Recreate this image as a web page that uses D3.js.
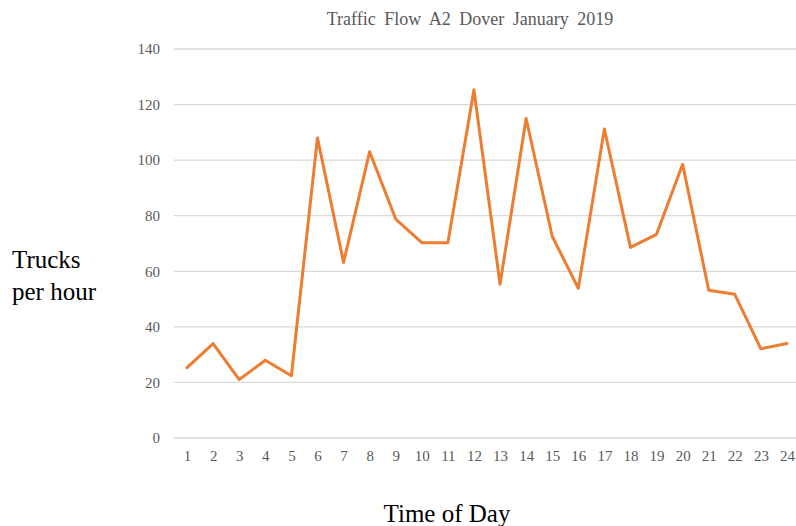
<!DOCTYPE html>
<html>
<head>
<meta charset="utf-8">
<script src="https://cdn.jsdelivr.net/npm/d3@7"></script>
<style>
  body { margin: 0; background: #fff; }
  svg { display: block; font-family: "Liberation Serif", "Times New Roman", serif; }
</style>
</head>
<body>
<div id="chart"></div>
<script>
var width = 796;
var height = 526;

// data
var hours = d3.range(1, 25);
var trucks = [25.3, 34, 21, 28, 22.4, 108, 63.2, 103, 78.8, 70.3, 70.3, 125.3,
  55.3, 115, 72.6, 53.9, 111.2, 68.6, 73.3, 98.5, 53.2, 51.7, 32.1, 34];
var yTicks = [0, 20, 40, 60, 80, 100, 120, 140];

// plot box (avoid "top", it is window.top)
var plotLeft = 174, plotRight = 800, plotTop = 49, plotBottom = 438;

var svg = d3.select('#chart').append('svg')
  .attr('width', width).attr('height', height);

var x = d3.scalePoint()
  .domain(hours)
  .range([plotLeft, plotRight])
  .padding(0.5);

var y = d3.scaleLinear()
  .domain([0, 140])
  .range([plotBottom, plotTop]);

// gridlines
svg.append('g')
  .selectAll('line')
  .data(yTicks)
  .enter()
  .append('line')
  .attr('x1', plotLeft)
  .attr('x2', plotRight)
  .attr('y1', function(d){ return y(d); })
  .attr('y2', function(d){ return y(d); })
  .attr('stroke', '#d9d9d9')
  .attr('stroke-width', 1.3);

// y axis labels
var yAxis = svg.append('g')
  .attr('transform', 'translate(' + (plotLeft - 14) + ',0)')
  .call(d3.axisLeft(y).tickValues(yTicks).tickSize(0).tickPadding(0));
yAxis.select('.domain').remove();
yAxis.selectAll('text')
  .attr('fill', '#595959')
  .style('font-size', '15px')
  .style('font-family', '"Liberation Serif", serif');

// x axis labels
var xAxis = svg.append('g')
  .attr('transform', 'translate(0,' + (plotBottom + 12) + ')')
  .call(d3.axisBottom(x).tickSize(0).tickPadding(0));
xAxis.select('.domain').remove();
xAxis.selectAll('text')
  .attr('fill', '#595959')
  .style('font-size', '15px')
  .style('font-family', '"Liberation Serif", serif');

// line
var line = d3.line()
  .x(function(d, i){ return x(hours[i]); })
  .y(function(d){ return y(d); });

svg.append('path')
  .datum(trucks)
  .attr('d', line)
  .attr('fill', 'none')
  .attr('stroke', '#ED7D31')
  .attr('stroke-width', 3)
  .attr('stroke-linejoin', 'round')
  .attr('stroke-linecap', 'round');

// title
svg.append('text')
  .attr('x', 470)
  .attr('y', 25)
  .attr('text-anchor', 'middle')
  .attr('fill', '#595959')
  .style('font-size', '18px')
  .style('word-spacing', '4px')
  .text('Traffic Flow A2 Dover January 2019');

// axis titles
svg.append('text')
  .attr('x', 12)
  .attr('y', 268)
  .attr('fill', '#000')
  .style('font-size', '25px')
  .text('Trucks');
svg.append('text')
  .attr('x', 12)
  .attr('y', 300)
  .attr('fill', '#000')
  .style('font-size', '25px')
  .text('per hour');

svg.append('text')
  .attr('x', 447)
  .attr('y', 522)
  .attr('text-anchor', 'middle')
  .attr('fill', '#000')
  .style('font-size', '25px')
  .text('Time of Day');
</script>
</body>
</html>
